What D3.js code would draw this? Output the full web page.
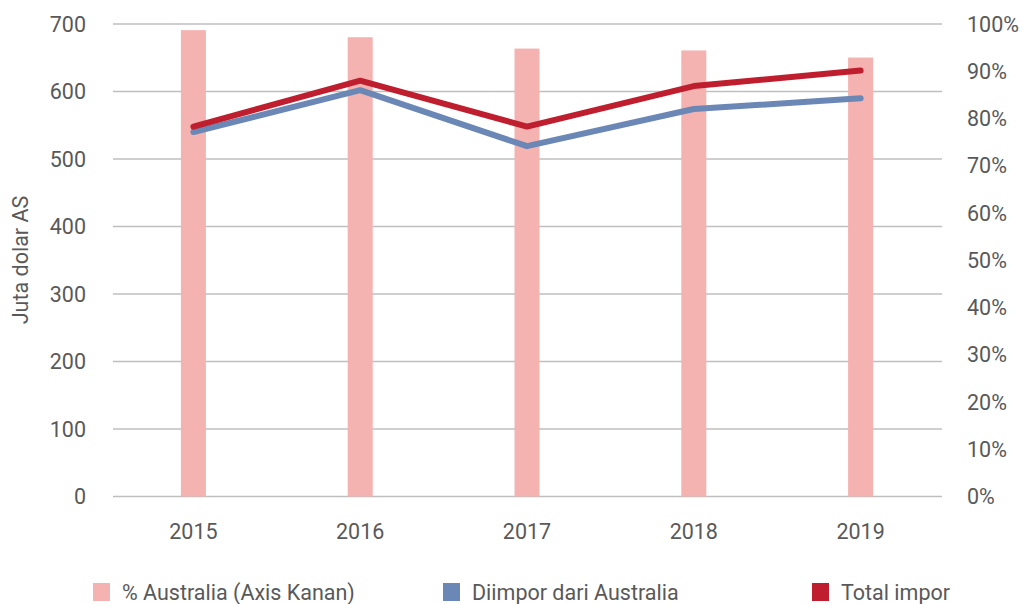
<!DOCTYPE html>
<html>
<head>
<meta charset="utf-8">
<script src="https://cdn.jsdelivr.net/npm/d3@7"></script>
<style>
  body { margin: 0; background: #fff; }
  svg { display: block; font-family: Roboto, sans-serif; }
  .tick-label { fill: #595959; font-size: 21.5px; }
</style>
</head>
<body>
<svg id="chart" width="1032" height="604"></svg>
<script>
const YEARS = ["2015", "2016", "2017", "2018", "2019"];
const SHARE_AUSTRALIA = [0.987, 0.972, 0.948, 0.944, 0.929];
const FROM_AUSTRALIA = [540, 602, 519, 574, 590];
const TOTAL_IMPORT = [548, 616, 548, 608, 631];
const LEFT_TICKS = [0, 100, 200, 300, 400, 500, 600, 700];
const RIGHT_TICKS = [0, 0.1, 0.2, 0.3, 0.4, 0.5, 0.6, 0.7, 0.8, 0.9, 1.0];
const LEGEND = [
  ["% Australia (Axis Kanan)", "#f4b3b1"],
  ["Diimpor dari Australia", "#6a87b5"],
  ["Total impor", "#be1e2d"],
];

const svg = d3.select("#chart");
const plot = { left: 113, right: 942, top: 24, bottom: 496.5 };

const x = d3.scaleBand().domain(YEARS).range([110, 944]);
const yLeft = d3.scaleLinear().domain([0, 700]).range([plot.bottom, plot.top]);
const yRight = d3.scaleLinear().domain([0, 1]).range([plot.bottom, plot.top]);

// gridlines
svg.append("g")
  .selectAll("line")
  .data(LEFT_TICKS)
  .join("line")
  .attr("x1", plot.left)
  .attr("x2", plot.right)
  .attr("y1", (d) => yLeft(d))
  .attr("y2", (d) => yLeft(d))
  .attr("stroke", "#bfbfbf")
  .attr("stroke-width", 1.3);

// bars (right axis)
const barW = 25;
svg.append("g")
  .selectAll("rect")
  .data(SHARE_AUSTRALIA)
  .join("rect")
  .attr("x", (d, i) => x(YEARS[i]) + x.bandwidth() / 2 - barW / 2)
  .attr("y", (d) => yRight(d))
  .attr("width", barW)
  .attr("height", (d) => plot.bottom - yRight(d))
  .attr("fill", "#f4b3b1");

// lines
const line = d3.line()
  .x((d, i) => x(YEARS[i]) + x.bandwidth() / 2)
  .y((d) => yLeft(d));

[[FROM_AUSTRALIA, "#6a87b5"], [TOTAL_IMPORT, "#be1e2d"]].forEach(([data, color]) => {
  svg.append("path")
    .datum(data)
    .attr("fill", "none")
    .attr("stroke", color)
    .attr("stroke-width", 6)
    .attr("stroke-linecap", "round")
    .attr("stroke-linejoin", "round")
    .attr("d", line);
});

// left axis labels
svg.append("g")
  .selectAll("text")
  .data(LEFT_TICKS)
  .join("text")
  .attr("class", "tick-label")
  .attr("x", 86)
  .attr("y", (d) => yLeft(d))
  .attr("dy", "0.35em")
  .attr("text-anchor", "end")
  .text((d) => d);

// right axis labels
svg.append("g")
  .selectAll("text")
  .data(RIGHT_TICKS)
  .join("text")
  .attr("class", "tick-label")
  .attr("x", 967)
  .attr("y", (d) => yRight(d))
  .attr("dy", "0.35em")
  .attr("text-anchor", "start")
  .text((d) => d3.format(".0%")(d));

// x labels
svg.append("g")
  .selectAll("text")
  .data(YEARS)
  .join("text")
  .attr("class", "tick-label")
  .attr("x", (d) => x(d) + x.bandwidth() / 2)
  .attr("y", 531)
  .attr("dy", "0.35em")
  .attr("text-anchor", "middle")
  .text((d) => d);

// y title
svg.append("text")
  .attr("class", "tick-label")
  .attr("transform", "translate(20,260) rotate(-90)")
  .attr("dy", "0.35em")
  .attr("text-anchor", "middle")
  .text("Juta dolar AS");

// legend
const legendX = [93, 443, 812];
const lg = svg.append("g")
  .selectAll("g")
  .data(LEGEND)
  .join("g")
  .attr("transform", (d, i) => `translate(${legendX[i]},583)`);
lg.append("rect").attr("width", 17).attr("height", 18).attr("fill", (d) => d[1]);
lg.append("text")
  .attr("class", "tick-label")
  .attr("x", 29)
  .attr("y", 9)
  .attr("dy", "0.35em")
  .text((d) => d[0]);
</script>
</body>
</html>
